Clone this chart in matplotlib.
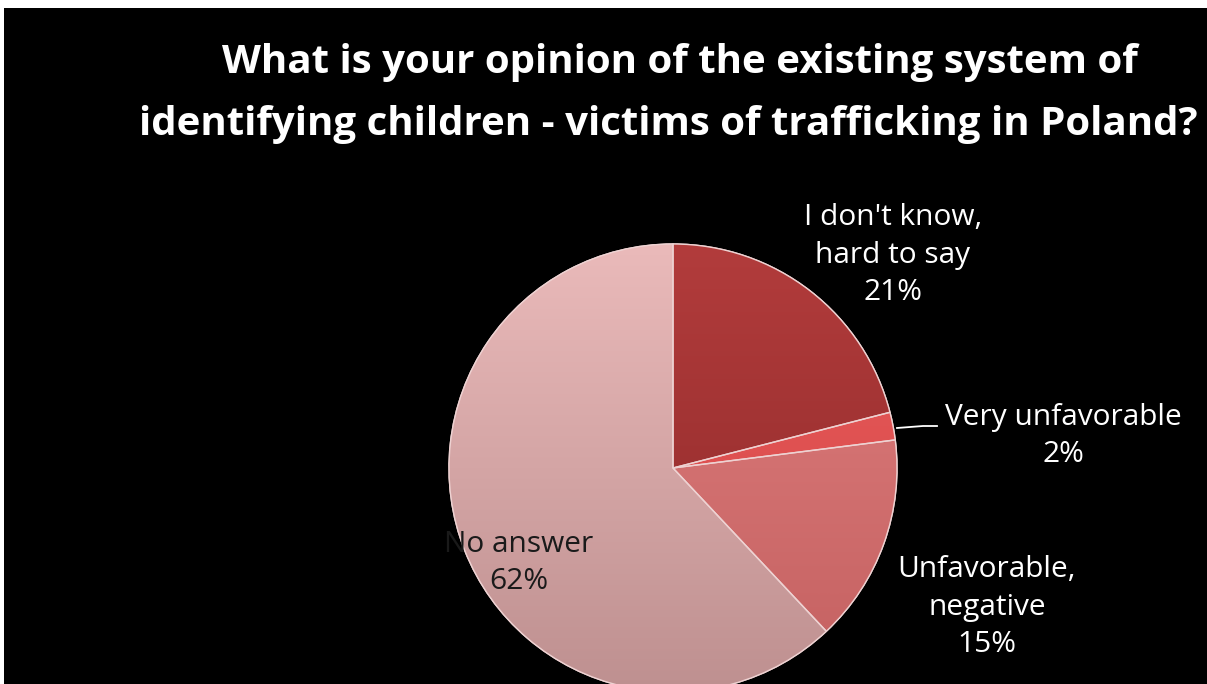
import numpy as np
import matplotlib
matplotlib.use("Agg")
import matplotlib.pyplot as plt
from matplotlib.patches import Rectangle
from matplotlib.colors import LinearSegmentedColormap

# survey answers, clockwise from 12 o'clock
answers = ["I don't know,\nhard to say", "Very unfavorable", "Unfavorable,\nnegative", "No answer"]
shares = [21, 2, 15, 62]
colors = ["#A33535", "#E04E4E", "#D87373", "#DDAAAA"]
# top / bottom shades used for the soft vertical gradient
shade_top = ["#B23C3C", "#EC6060", "#E08080", "#EABABA"]
shade_bot = ["#8C2828", "#D04040", "#C46060", "#BE9090"]

title_lines = ["What is your opinion of the existing system of",
               "identifying children - victims of trafficking in Poland?"]

W, H = 1207, 684
FONT = "Open Sans"

fig = plt.figure(figsize=(W / 100, H / 100), dpi=100, facecolor="white")
ax = fig.add_axes([0, 0, 1, 1])

# black chart area (white margin on top and left)
ax.add_patch(Rectangle((4, 0), W - 4, H - 8, facecolor="black", edgecolor="none", zorder=0))

cx, cy, r = 673, H - 468, 224
wedges, _ = ax.pie(shares, colors=colors, startangle=90, counterclock=False,
                   center=(cx, cy), radius=r, frame=True,
                   wedgeprops=dict(edgecolor="#EED2D2", linewidth=1.0))

grad = np.linspace(1, 0, 256).reshape(-1, 1)
for w, top, bot in zip(wedges, shade_top, shade_bot):
    w.set_zorder(2)
    cmap = LinearSegmentedColormap.from_list("s", [bot, top])
    im = ax.imshow(grad, cmap=cmap, extent=(cx - r, cx + r, cy - r, cy + r),
                   origin="upper", aspect="auto", zorder=2.5, interpolation="bicubic")
    im.set_clip_path(w)
    # thin light rim drawn over the gradient
    ax.add_patch(plt.matplotlib.patches.Wedge((cx, cy), r, w.theta1, w.theta2,
                 facecolor="none", edgecolor="#EED2D2", lw=1.0, zorder=3))

ax.set_xlim(0, W)
ax.set_ylim(0, H)
ax.set_aspect("equal")
ax.axis("off")

for i, line in enumerate(title_lines):
    ax.text([680, 668][i], H - 62 - 63 * i, line, ha="center", va="center",
            color="white", fontsize=29, fontweight="bold", family=FONT, zorder=5)

# data labels
label_pos = [(893, H - 255, "white"), (1063, H - 436, "white"),
             (987, H - 607, "white"), (519, H - 563, "#1A1A1A")]
for name, val, (x, y, c) in zip(answers, shares, label_pos):
    ax.text(x, y, f"{name}\n{val}%", ha="center", va="center", color=c,
            fontsize=21.5, family=FONT, linespacing=1.37, zorder=5)

# leader line for the thin slice
ax.plot([897, 923, 937], [H - 428, H - 426, H - 426], color="white", lw=1.3, zorder=4)

fig.savefig("out.png", dpi=100, facecolor="white")
